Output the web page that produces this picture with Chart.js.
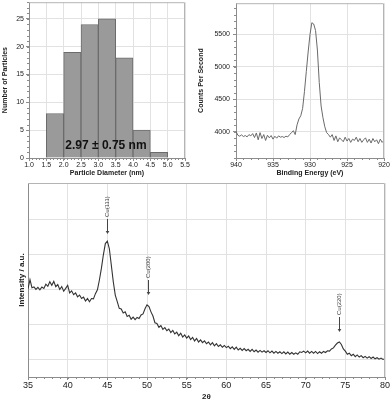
<!DOCTYPE html>
<html>
<head>
<meta charset="utf-8">
<script src="https://cdn.jsdelivr.net/npm/chart.js@4.4.1/dist/chart.umd.min.js"></script>
<style>
  html, body { margin: 0; padding: 0; background: #fff; }
  body { width: 392px; height: 402px; position: relative; overflow: hidden; }
  canvas { position: absolute; }
  #hist { left: 0; top: -4px; }
  #xps { left: 196px; top: -4px; }
  #xrd { left: 0; top: 176px; }
</style>
</head>
<body>
<canvas id="hist" width="196" height="186"></canvas>
<canvas id="xps" width="196" height="186"></canvas>
<canvas id="xrd" width="392" height="226"></canvas>
<script>
// particle size histogram
const binEdges = [1.5, 2.0, 2.5, 3.0, 3.5, 4.0, 4.5, 5.0];
const binCounts = [8, 19, 24, 25, 18, 5, 1];
const histStat = '2.97 ± 0.75 nm';
const histXTicks = [1.0, 1.5, 2.0, 2.5, 3.0, 3.5, 4.0, 4.5, 5.0, 5.5];
const histYTicks = [0, 5, 10, 15, 20, 25];

// XPS Cu 2p region, 940 -> 920 eV every 0.25 eV
const xpsStart = 940, xpsStep = -0.25;
const xpsCounts = [
  4010, 3950, 3935, 3955, 3930, 3945, 3925, 3960, 3940, 3975,
  3915, 3985, 3880, 3990, 3900, 3960, 3870, 3950, 3910, 3945,
  3890, 3935, 3905, 3940, 3920, 3930, 3915, 3935, 3925, 3960,
  3990, 4020, 3960, 4110, 4200, 4250, 4360, 4620, 4930, 5230,
  5500, 5680, 5660, 5560, 5260, 4760, 4400, 4220, 4080, 3990,
  3960, 3920, 3960, 3870, 3940, 3850, 3910, 3880, 3850, 3920,
  3860, 3900, 3840, 3890, 3870, 3920, 3850, 3900, 3840, 3880,
  3910, 3840, 3890, 3830, 3900, 3850, 3880, 3820, 3890, 3840,
  3870
];
const xpsXTicks = [940, 935, 930, 925, 920];
const xpsYTicks = [4000, 4500, 5000, 5500];

// XRD pattern, 35 -> 80 deg every 0.25 deg (arbitrary units)
const xrdStart = 35, xrdStep = 0.25;
const xrdIntensity = [
  2.02, 2.28, 2.05, 2.07, 2.00, 2.06, 1.99, 2.07, 2.03, 2.15,
  2.09, 2.22, 2.12, 2.23, 2.08, 2.14, 2.00, 2.08, 1.95, 2.03,
  2.12, 1.90, 1.96, 1.85, 1.90, 1.79, 1.84, 1.74, 1.78, 1.67,
  1.74, 1.65, 1.74, 1.73, 1.88, 1.99, 2.27, 2.60, 2.99, 3.31,
  3.38, 3.17, 2.70, 2.22, 1.84, 1.65, 1.46, 1.44, 1.33, 1.36,
  1.23, 1.26, 1.15, 1.21, 1.14, 1.20, 1.17, 1.27, 1.30, 1.45,
  1.56, 1.51, 1.36, 1.24, 1.05, 1.03, 0.92, 0.97, 0.86, 0.91,
  0.82, 0.87, 0.77, 0.83, 0.73, 0.78, 0.68, 0.75, 0.64, 0.70,
  0.61, 0.67, 0.57, 0.63, 0.53, 0.60, 0.50, 0.56, 0.48, 0.53,
  0.45, 0.50, 0.42, 0.48, 0.39, 0.45, 0.37, 0.42, 0.35, 0.40,
  0.34, 0.38, 0.31, 0.36, 0.29, 0.35, 0.27, 0.32, 0.26, 0.31,
  0.25, 0.29, 0.23, 0.29, 0.22, 0.27, 0.21, 0.26, 0.21, 0.25,
  0.20, 0.25, 0.19, 0.24, 0.18, 0.23, 0.18, 0.22, 0.17, 0.22,
  0.16, 0.21, 0.15, 0.20, 0.15, 0.19, 0.15, 0.22, 0.20, 0.24,
  0.19, 0.24, 0.18, 0.23, 0.18, 0.23, 0.17, 0.22, 0.18, 0.23,
  0.20, 0.25, 0.24, 0.30, 0.33, 0.41, 0.47, 0.50, 0.43, 0.30,
  0.24, 0.15, 0.18, 0.11, 0.15, 0.08, 0.13, 0.07, 0.11, 0.05,
  0.09, 0.04, 0.08, 0.03, 0.07, 0.02, 0.05, 0.01, 0.04, 0.00,
  0.02
];
const xrdXTicks = [35, 40, 45, 50, 55, 60, 65, 70, 75, 80];
const xrdYGrid = [0, 1, 2, 3, 4];

const peakLabels = ['Cu(111)', 'Cu(200)', 'Cu(220)'];
const peakAngles = [45.0, 50.15, 74.2];
const peakArrowTips = [3.58, 1.84, 0.78];

const FONT = "'Liberation Sans', Arial, sans-serif";
const GRID = '#e2e2e2';
const AXIS = '#8c8c8c';
Chart.defaults.font.family = FONT;
Chart.defaults.color = '#222';

const useTicks = arr => s => { s.ticks = arr.map(v => ({ value: v })); };

// frame on top/right plus small minor ticks on the axes
const frameTicks = {
  id: 'frameTicks',
  afterDraw(chart, args, opts) {
    const { ctx, chartArea: a, scales } = chart;
    ctx.save();
    ctx.lineWidth = 1;
    ctx.strokeStyle = '#b4b4b4';
    ctx.beginPath();
    ctx.moveTo(a.left, a.top + 0.5);
    ctx.lineTo(a.right - 0.5, a.top + 0.5);
    ctx.lineTo(a.right - 0.5, a.bottom);
    ctx.stroke();
    ctx.strokeStyle = AXIS;
    ctx.beginPath();
    if (opts.x) {
      const s = scales.x;
      const n = Math.round((s.max - s.min) / opts.x);
      for (let i = 0; i <= n; i++) {
        const px = Math.round(s.getPixelForValue(s.min + i * opts.x)) + 0.5;
        ctx.moveTo(px, a.bottom);
        ctx.lineTo(px, a.bottom + 2);
      }
    }
    if (opts.y) {
      const s = scales.y;
      const n = Math.floor((s.max - s.min) / opts.y);
      for (let i = 0; i <= n; i++) {
        const py = Math.round(s.getPixelForValue(s.min + i * opts.y)) + 0.5;
        ctx.moveTo(a.left, py);
        ctx.lineTo(a.left - 2, py);
      }
    }
    ctx.stroke();
    ctx.restore();
  }
};

// histogram
const histLabel = {
  id: 'histLabel',
  afterDatasetsDraw(chart) {
    const { ctx, scales: { x, y } } = chart;
    ctx.save();
    ctx.font = 'bold 12px ' + FONT;
    ctx.fillStyle = '#111';
    ctx.textAlign = 'center';
    ctx.textBaseline = 'middle';
    ctx.fillText(histStat, x.getPixelForValue(3.22), y.getPixelForValue(2.3));
    ctx.restore();
  }
};

new Chart(document.getElementById('hist'), {
  type: 'bar',
  data: {
    datasets: [{
      data: binCounts.map((c, i) => ({ x: (binEdges[i] + binEdges[i + 1]) / 2, y: c })),
      backgroundColor: '#9a9a9a',
      borderColor: '#6c6c6c',
      borderWidth: 1,
      barPercentage: 1,
      categoryPercentage: 1
    }]
  },
  options: {
    responsive: false,
    animation: false,
    layout: { padding: { top: 6, right: 11, left: 0, bottom: 0 } },
    plugins: { legend: { display: false }, tooltip: { enabled: false }, frameTicks: { x: 0.1, y: 1 } },
    scales: {
      x: {
        type: 'linear', min: 1, max: 5.5, offset: false,
        afterBuildTicks: useTicks(histXTicks),
        afterFit: s => { s.height = 24; },
        ticks: { padding: 0, font: { size: 7 }, callback: v => v.toFixed(1) },
        grid: { color: GRID, tickColor: AXIS, tickLength: 3, offset: false },
        border: { color: AXIS },
        title: { display: true, text: 'Particle Diameter (nm)', font: { size: 7, weight: 'bold' }, padding: { top: 0, bottom: 5 } }
      },
      y: {
        min: 0, max: 28,
        afterBuildTicks: useTicks(histYTicks),
        afterFit: s => { s.width = 29; },
        ticks: { padding: 2, font: { size: 7 }, callback: v => String(v) },
        grid: { color: GRID, tickColor: AXIS, tickLength: 3 },
        border: { color: AXIS },
        title: { display: true, text: 'Number of Particles', font: { size: 7, weight: 'bold' }, padding: { top: 1, bottom: 0 } }
      }
    }
  },
  plugins: [frameTicks, histLabel]
});

// XPS
new Chart(document.getElementById('xps'), {
  type: 'line',
  data: {
    datasets: [{
      data: xpsCounts.map((c, i) => ({ x: xpsStart + i * xpsStep, y: c })),
      borderColor: '#6a6a6a',
      borderWidth: 1,
      pointRadius: 0,
      tension: 0
    }]
  },
  options: {
    responsive: false,
    animation: false,
    layout: { padding: { top: 7, right: 8, left: 0, bottom: 0 } },
    plugins: { legend: { display: false }, tooltip: { enabled: false }, frameTicks: { x: 1, y: 100 } },
    scales: {
      x: {
        type: 'linear', min: 920, max: 940, reverse: true,
        afterBuildTicks: useTicks(xpsXTicks),
        afterFit: s => { s.height = 24; },
        ticks: { padding: 0, font: { size: 7 }, callback: v => String(v) },
        grid: { color: GRID, tickColor: AXIS, tickLength: 3 },
        border: { color: AXIS },
        title: { display: true, text: 'Binding Energy (eV)', font: { size: 7, weight: 'bold' }, padding: { top: 0, bottom: 5 } }
      },
      y: {
        min: 3600, max: 5980,
        afterBuildTicks: useTicks(xpsYTicks),
        afterFit: s => { s.width = 40; },
        ticks: { padding: 3, font: { size: 7 }, callback: v => String(v) },
        grid: { color: GRID, tickColor: AXIS, tickLength: 3 },
        border: { color: AXIS },
        title: { display: true, text: 'Counts Per Second', font: { size: 7, weight: 'bold' }, padding: { top: 1, bottom: 0 } }
      }
    }
  },
  plugins: [frameTicks]
});

// XRD
const peakMarks = {
  id: 'peakMarks',
  afterDatasetsDraw(chart) {
    const { ctx, scales: { x, y } } = chart;
    ctx.save();
    ctx.strokeStyle = '#444';
    ctx.fillStyle = '#444';
    ctx.lineWidth = 1;
    ctx.font = '6px ' + FONT;
    peakLabels.forEach((label, i) => {
      const px = Math.round(x.getPixelForValue(peakAngles[i])) + 0.5;
      const tip = Math.round(y.getPixelForValue(peakArrowTips[i]));
      ctx.beginPath();
      ctx.moveTo(px, tip - 15);
      ctx.lineTo(px, tip - 2);
      ctx.stroke();
      ctx.beginPath();
      ctx.moveTo(px - 1.8, tip - 3);
      ctx.lineTo(px + 1.8, tip - 3);
      ctx.lineTo(px, tip);
      ctx.closePath();
      ctx.fill();
      ctx.save();
      ctx.translate(px, tip - 17);
      ctx.rotate(-Math.PI / 2);
      ctx.textAlign = 'left';
      ctx.textBaseline = 'middle';
      ctx.fillText(label, 0, 0);
      ctx.restore();
    });
    ctx.restore();
  }
};

new Chart(document.getElementById('xrd'), {
  type: 'line',
  data: {
    datasets: [{
      data: xrdIntensity.map((v, i) => ({ x: xrdStart + i * xrdStep, y: v })),
      borderColor: '#333',
      borderWidth: 1.1,
      pointRadius: 0,
      tension: 0
    }]
  },
  options: {
    responsive: false,
    animation: false,
    layout: { padding: { top: 7, right: 7, left: 0, bottom: 0 } },
    plugins: { legend: { display: false }, tooltip: { enabled: false }, frameTicks: { x: 1 } },
    scales: {
      x: {
        type: 'linear', min: 35, max: 80,
        afterBuildTicks: useTicks(xrdXTicks),
        afterFit: s => { s.height = 25; },
        ticks: { padding: 0, font: { size: 9 }, callback: v => String(v) },
        grid: { color: GRID, tickColor: AXIS, tickLength: 3 },
        border: { color: AXIS },
        title: { display: true, text: '2θ', font: { size: 8, weight: 'bold' }, padding: { top: 0, bottom: 0 } }
      },
      y: {
        min: -0.5, max: 5.04,
        afterBuildTicks: useTicks(xrdYGrid),
        afterFit: s => { s.width = 28; },
        ticks: { display: false },
        grid: { color: GRID, drawTicks: false },
        border: { color: AXIS },
        title: { display: true, text: 'Intensity / a.u.', font: { size: 8, weight: 'bold' }, padding: { top: 17, bottom: 0 } }
      }
    }
  },
  plugins: [frameTicks, peakMarks]
});
</script>
</body>
</html>
